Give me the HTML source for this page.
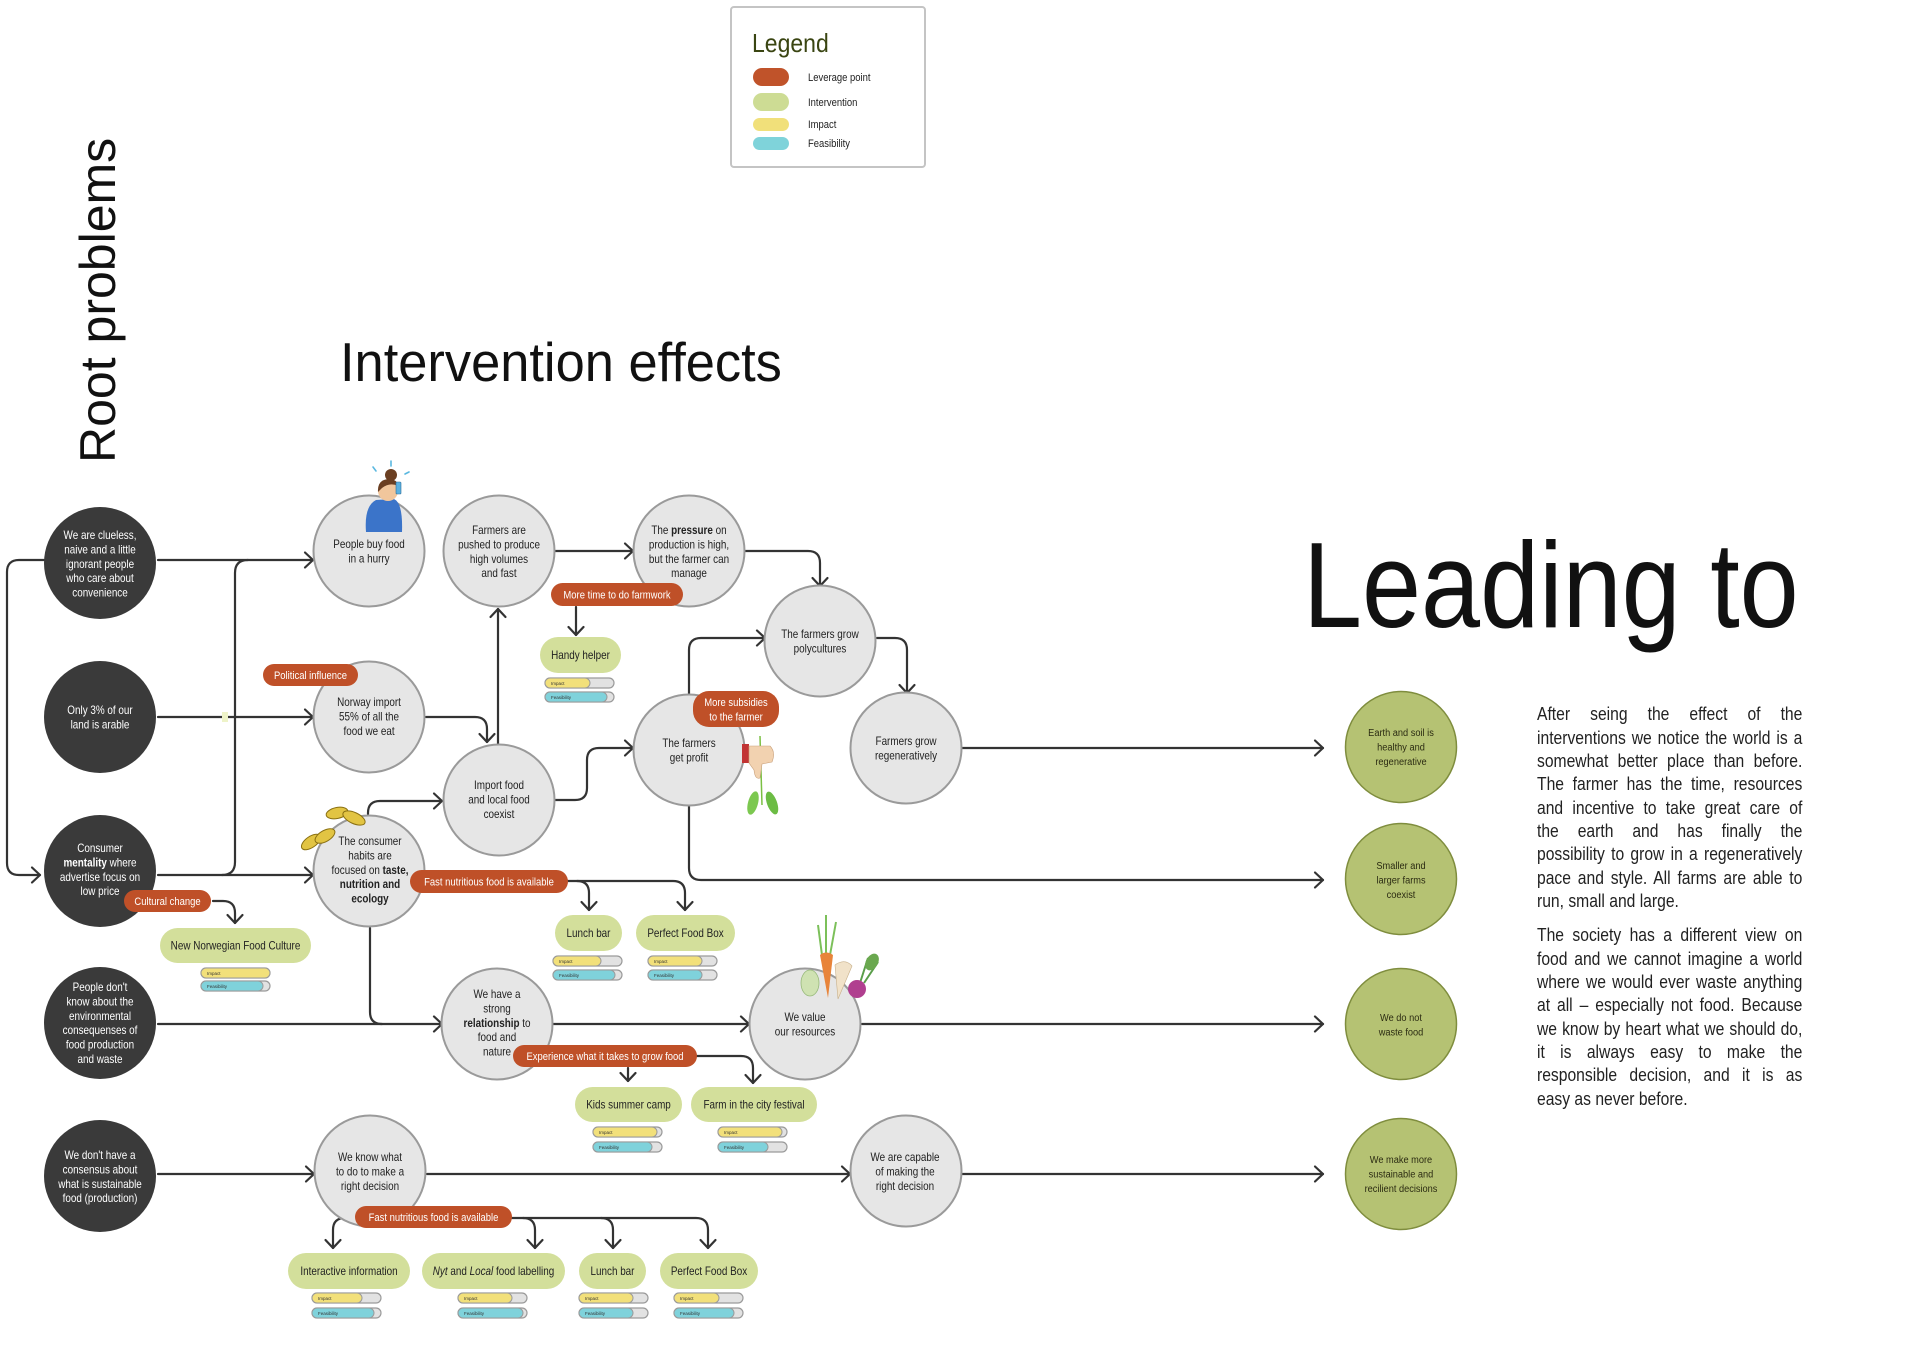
<!DOCTYPE html>
<html>
<head>
<meta charset="utf-8">
<style>
html,body{margin:0;padding:0;background:#fff;}
body{width:1920px;height:1357px;overflow:hidden;position:relative;}
svg{position:absolute;left:0;top:0;}
.t{font-family:"Liberation Sans",Arial,sans-serif;font-size:11.5px;fill:#222;text-anchor:middle;}
.w{fill:#fff;}
.p{font-family:"Liberation Sans",Arial,sans-serif;font-size:11px;fill:#fff;text-anchor:middle;}
.gr{font-family:"Liberation Sans",Arial,sans-serif;font-size:10.5px;fill:#2b2b12;text-anchor:middle;}
.bl{font-family:"Liberation Sans",Arial,sans-serif;font-size:4.5px;fill:#333;}
.c{fill:none;stroke:#333;stroke-width:2.2;stroke-linecap:round;stroke-linejoin:round;}
.gc{fill:#e6e6e6;stroke:#9a9a9a;stroke-width:2;}
.dc{fill:#3a3a3a;}
.lc{fill:#b5c273;stroke:#7f8d3e;stroke-width:1.5;}
.lp{fill:#bf5028;}
.ip{fill:#d3df9b;}
.tr{fill:#e2e2e2;stroke:#9a9a9a;stroke-width:1.2;}
.im{fill:#f2e07a;stroke:#9a9a9a;stroke-width:1;}
.fe{fill:#7fd2db;stroke:#9a9a9a;stroke-width:1;}
#para{position:absolute;left:1537px;top:703.3px;width:305px;transform:scaleX(0.87);transform-origin:0 0;font-family:"Liberation Sans",Arial,sans-serif;font-size:18px;line-height:23.33px;color:#222;}
#para .j{text-align:justify;text-align-last:justify;}
#para .p2{margin-top:11px;}
</style>
</head>
<body>
<svg width="1920" height="1357" viewBox="0 0 1920 1357" xmlns="http://www.w3.org/2000/svg">

<!-- Titles -->
<text transform="translate(115 463) rotate(-90)" font-family="Liberation Sans, Arial, sans-serif" font-size="50" fill="#111">Root problems</text>
<text transform="translate(340 381) scale(.953 1)" font-family="Liberation Sans, Arial, sans-serif" font-size="55" fill="#111">Intervention effects</text>
<text transform="translate(1303 627) scale(.87 1)" font-family="Liberation Sans, Arial, sans-serif" font-size="122" fill="#111">Leading to</text>

<!-- Legend -->
<rect x="731" y="7" width="194" height="160" rx="3" fill="#fff" stroke="#c4c4c4" stroke-width="2"/>
<text transform="translate(752 52) scale(.885 1)" font-family="Liberation Sans, Arial, sans-serif" font-size="26" fill="#3a4512">Legend</text>
<rect x="753" y="68" width="36" height="18" rx="9" fill="#c0532a"/>
<rect x="753" y="93" width="36" height="18" rx="9" fill="#cddc94"/>
<rect x="753" y="118" width="36" height="13" rx="6.5" fill="#f1e07a"/>
<rect x="753" y="137" width="36" height="13" rx="6.5" fill="#7fd3da"/>
<g font-family="Liberation Sans, Arial, sans-serif" font-size="11" fill="#222">
<text transform="translate(808 81) scale(.86 1)">Leverage point</text>
<text transform="translate(808 106) scale(.86 1)">Intervention</text>
<text transform="translate(808 128) scale(.86 1)">Impact</text>
<text transform="translate(808 147) scale(.86 1)">Feasibility</text>
</g>

<!-- Connectors -->
<g class="c">
<path d="M158 560 H313"/><path d="M305 552.5 L313 560 L305 567.5"/>
<path d="M44 560 H19 Q7 560 7 572 V863 Q7 875 19 875 H40"/><path d="M32 867.5 L40 875 L32 882.5"/>
<path d="M158 875 H313"/><path d="M305 867.5 L313 875 L305 882.5"/>
<path d="M222 875 Q235 875 235 862 V573 Q235 560 248 560"/>
<path d="M158 717 H313"/><path d="M305 709.5 L313 717 L305 724.5"/>
<path d="M426 717 H475 Q487 717 487 729 V742"/><path d="M479.5 734 L487 742 L494.5 734"/>
<path d="M498 744 V609"/><path d="M490.5 617 L498 609 L505.5 617"/>
<path d="M368 814 V813 Q368 801 380 801 H442"/><path d="M434 793.5 L442 801 L434 808.5"/>
<path d="M555 800 H575 Q587 800 587 788 V760 Q587 748 599 748 H633"/><path d="M625 740.5 L633 748 L625 755.5"/>
<path d="M555 551 H633"/><path d="M625 543.5 L633 551 L625 558.5"/>
<path d="M745 551 H808 Q820 551 820 563 V586"/><path d="M812.5 578 L820 586 L827.5 578"/>
<path d="M689 695 V650 Q689 638 701 638 H765"/><path d="M757 630.5 L765 638 L757 645.5"/>
<path d="M877 638 H895 Q907 638 907 650 V693"/><path d="M899.5 685 L907 693 L914.5 685"/>
<path d="M962 748 H1323"/><path d="M1315 740.5 L1323 748 L1315 755.5"/>
<path d="M689 806 V868 Q689 880 701 880 H1323"/><path d="M1315 872.5 L1323 880 L1315 887.5"/>
<path d="M158 1024 H442"/><path d="M434 1016.5 L442 1024 L434 1031.5"/>
<path d="M370 928 V1012 Q370 1024 382 1024"/>
<path d="M553 1024 H749"/><path d="M741 1016.5 L749 1024 L741 1031.5"/>
<path d="M862 1024 H1323"/><path d="M1315 1016.5 L1323 1024 L1315 1031.5"/>
<path d="M158 1174 H314"/><path d="M306 1166.5 L314 1174 L306 1181.5"/>
<path d="M427 1174 H850"/><path d="M842 1166.5 L850 1174 L842 1181.5"/>
<path d="M962 1174 H1323"/><path d="M1315 1166.5 L1323 1174 L1315 1181.5"/>
<path d="M576 607 V635"/><path d="M568.5 627 L576 635 L583.5 627"/>
<path d="M213 901 H223 Q235 901 235 913 V923"/><path d="M227.5 915 L235 923 L242.5 915"/>
<path d="M568 881 H673 Q685 881 685 893 V910"/><path d="M677.5 902 L685 910 L692.5 902"/>
<path d="M577 881 Q589 881 589 893 V910"/><path d="M581.5 902 L589 910 L596.5 902"/>
<path d="M628 1068 V1081"/><path d="M620.5 1073 L628 1081 L635.5 1073"/>
<path d="M697 1056 H741 Q753 1056 753 1068 V1083"/><path d="M745.5 1075 L753 1083 L760.5 1075"/>
<path d="M355 1218 H345 Q333 1218 333 1230 V1248"/><path d="M325.5 1240 L333 1248 L340.5 1240"/>
<path d="M512 1218 H696 Q708 1218 708 1230 V1248"/><path d="M700.5 1240 L708 1248 L715.5 1240"/>
<path d="M523 1218 Q535 1218 535 1230 V1248"/><path d="M527.5 1240 L535 1248 L542.5 1240"/>
<path d="M601 1218 Q613 1218 613 1230 V1248"/><path d="M605.5 1240 L613 1248 L620.5 1240"/>
</g>
<rect x="222" y="712" width="6" height="10" fill="#eef3c8"/>

<!-- Dark root circles -->
<circle class="dc" cx="100" cy="563" r="56"/>
<circle class="dc" cx="100" cy="717" r="56"/>
<circle class="dc" cx="100" cy="871" r="56"/>
<circle class="dc" cx="100" cy="1023" r="56"/>
<circle class="dc" cx="100" cy="1176" r="56"/>

<!-- Gray circles -->
<circle class="gc" cx="369" cy="551" r="55.5"/>
<circle class="gc" cx="499" cy="551" r="55.5"/>
<circle class="gc" cx="689" cy="551" r="55.5"/>
<circle class="gc" cx="820" cy="641" r="55.5"/>
<circle class="gc" cx="906" cy="748" r="55.5"/>
<circle class="gc" cx="689" cy="750" r="55.5"/>
<circle class="gc" cx="369" cy="717" r="55.5"/>
<circle class="gc" cx="499" cy="800" r="55.5"/>
<circle class="gc" cx="369" cy="871" r="55.5"/>
<circle class="gc" cx="497" cy="1024" r="55.5"/>
<circle class="gc" cx="805" cy="1024" r="55.5"/>
<circle class="gc" cx="370" cy="1171" r="55.5"/>
<circle class="gc" cx="906" cy="1171" r="55.5"/>

<!-- Green outcome circles -->
<circle class="lc" cx="1401" cy="747" r="55.5"/>
<circle class="lc" cx="1401" cy="879" r="55.5"/>
<circle class="lc" cx="1401" cy="1024" r="55.5"/>
<circle class="lc" cx="1401" cy="1174" r="55.5"/>

<!-- Illustrations -->
<!-- person -->
<path d="M366 532 Q364 506 376 500 L394 499 Q403 503 402 532 Z" fill="#3b74c9"/>
<circle cx="388" cy="491" r="10" fill="#f1c69c"/>
<path d="M378 492 Q377 479 390 479 Q398 480 398 486 Q390 482 382 488 Z" fill="#6b3f22"/>
<circle cx="391" cy="475" r="6" fill="#6b3f22"/>
<rect x="396" y="482" width="5" height="12" rx="1" fill="#5ab0e0" stroke="#2f6f9a" stroke-width="0.6"/>
<g stroke="#5ab8e0" stroke-width="1.6" stroke-linecap="round">
<path d="M373 467 L376 471"/><path d="M391 461 L391 466"/><path d="M405 474 L409 472"/>
</g>
<!-- coins -->
<g fill="#e2c443" stroke="#8a7012" stroke-width="1">
<ellipse cx="337" cy="813" rx="11" ry="5.5" transform="rotate(-12 337 813)"/>
<ellipse cx="354" cy="818" rx="12" ry="5.5" transform="rotate(25 354 818)"/>
<ellipse cx="311" cy="842" rx="11" ry="5.5" transform="rotate(-35 311 842)"/>
<ellipse cx="325" cy="836" rx="11" ry="5.5" transform="rotate(-30 325 836)"/>
</g>
<!-- hand with plant -->
<path d="M760 736 Q761 770 762 805" stroke="#7bc043" stroke-width="1.5" fill="none"/>
<ellipse cx="753" cy="803" rx="5" ry="12" fill="#7cc850" transform="rotate(15 753 803)"/>
<ellipse cx="772" cy="803" rx="5" ry="12" fill="#6cbc44" transform="rotate(-20 772 803)"/>
<rect x="742" y="744" width="7" height="19" fill="#c23434"/>
<path d="M749 746 L770 746 Q776 752 772 762 L762 764 L760 778 Q755 780 754 770 L749 763 Z" fill="#f2d2b0" stroke="#c9a07a" stroke-width="0.6"/>
<!-- vegetables -->
<path d="M822 955 L818 925 M826 955 L826 915 M830 955 L836 922" stroke="#7cc05a" stroke-width="2" fill="none"/>
<path d="M820 955 Q826 950 833 955 L828 998 Z" fill="#e8843a"/>
<path d="M835 965 Q845 958 852 966 L838 999 Z" fill="#f1e2c9" stroke="#c8b08a" stroke-width="0.6"/>
<ellipse cx="810" cy="983" rx="9" ry="13" fill="#cfe2b2" stroke="#97b97a" stroke-width="0.8"/>
<path d="M860 983 L868 958 M864 983 L878 962" stroke="#5a9e4a" stroke-width="2" fill="none"/>
<ellipse cx="872" cy="962" rx="6" ry="9" fill="#6aa84f" transform="rotate(30 872 962)"/>
<circle cx="857" cy="989" r="9" fill="#b03f8f"/>

<!-- Leverage pills -->
<rect class="lp" x="263" y="664" width="95" height="22" rx="11"/>
<rect class="lp" x="551" y="583" width="132" height="23" rx="11.5"/>
<rect class="lp" x="693" y="691" width="86" height="36" rx="16"/>
<rect class="lp" x="410" y="870" width="158" height="23" rx="11.5"/>
<rect class="lp" x="124" y="890" width="87" height="22" rx="11"/>
<rect class="lp" x="513" y="1045" width="184" height="22" rx="11"/>
<rect class="lp" x="355" y="1206" width="157" height="22" rx="11"/>

<text class="p" transform="translate(310.5 679) scale(.86 1)">Political influence</text>
<text class="p" transform="translate(617 598.5) scale(.86 1)">More time to do farmwork</text>
<text class="p" transform="translate(736 706) scale(.86 1)"><tspan x="0">More subsidies</tspan><tspan x="0" dy="14.3">to the farmer</tspan></text>
<text class="p" transform="translate(489 885.5) scale(.86 1)">Fast nutritious food is available</text>
<text class="p" transform="translate(167.5 905) scale(.86 1)">Cultural change</text>
<text class="p" transform="translate(605 1060) scale(.86 1)">Experience what it takes to grow food</text>
<text class="p" transform="translate(433.5 1221) scale(.86 1)">Fast nutritious food is available</text>

<!-- Intervention pills -->
<rect class="ip" x="540" y="637" width="81" height="36" rx="18"/>
<rect class="ip" x="160" y="928" width="151" height="35" rx="17.5"/>
<rect class="ip" x="555" y="915" width="67" height="36" rx="18"/>
<rect class="ip" x="636" y="915" width="99" height="36" rx="18"/>
<rect class="ip" x="575" y="1087" width="107" height="35" rx="17.5"/>
<rect class="ip" x="691" y="1087" width="126" height="35" rx="17.5"/>
<rect class="ip" x="288" y="1253" width="122" height="36" rx="18"/>
<rect class="ip" x="422" y="1253" width="143" height="36" rx="18"/>
<rect class="ip" x="579" y="1253" width="67" height="36" rx="18"/>
<rect class="ip" x="660" y="1253" width="98" height="36" rx="18"/>

<text class="t" transform="translate(580.5 659) scale(.86 1)">Handy helper</text>
<text class="t" transform="translate(235.5 949.5) scale(.86 1)">New Norwegian Food Culture</text>
<text class="t" transform="translate(588.5 937) scale(.86 1)">Lunch bar</text>
<text class="t" transform="translate(685.5 937) scale(.86 1)">Perfect Food Box</text>
<text class="t" transform="translate(628.5 1108.5) scale(.86 1)">Kids summer camp</text>
<text class="t" transform="translate(754 1108.5) scale(.86 1)">Farm in the city festival</text>
<text class="t" transform="translate(349 1275) scale(.86 1)">Interactive information</text>
<text class="t" transform="translate(493.5 1275) scale(.86 1)"><tspan font-style="italic">Nyt</tspan> and <tspan font-style="italic">Local</tspan> food labelling</text>
<text class="t" transform="translate(612.5 1275) scale(.86 1)">Lunch bar</text>
<text class="t" transform="translate(709 1275) scale(.86 1)">Perfect Food Box</text>

<!-- Bars -->
<g>
<rect class="tr" x="545" y="678" width="69" height="10" rx="5"/><rect class="im" x="545" y="678" width="45" height="10" rx="5"/><text class="bl" x="551" y="685">Impact</text>
<rect class="tr" x="545" y="692" width="69" height="10" rx="5"/><rect class="fe" x="545" y="692" width="62" height="10" rx="5"/><text class="bl" x="551" y="699">Feasibility</text>
<rect class="tr" x="201" y="968" width="69" height="10" rx="5"/><rect class="im" x="201" y="968" width="69" height="10" rx="5"/><text class="bl" x="207" y="975">Impact</text>
<rect class="tr" x="201" y="981" width="69" height="10" rx="5"/><rect class="fe" x="201" y="981" width="62" height="10" rx="5"/><text class="bl" x="207" y="988">Feasibility</text>
<rect class="tr" x="553" y="956" width="69" height="10" rx="5"/><rect class="im" x="553" y="956" width="48" height="10" rx="5"/><text class="bl" x="559" y="963">Impact</text>
<rect class="tr" x="553" y="970" width="69" height="10" rx="5"/><rect class="fe" x="553" y="970" width="62" height="10" rx="5"/><text class="bl" x="559" y="977">Feasibility</text>
<rect class="tr" x="648" y="956" width="69" height="10" rx="5"/><rect class="im" x="648" y="956" width="54" height="10" rx="5"/><text class="bl" x="654" y="963">Impact</text>
<rect class="tr" x="648" y="970" width="69" height="10" rx="5"/><rect class="fe" x="648" y="970" width="54" height="10" rx="5"/><text class="bl" x="654" y="977">Feasibility</text>
<rect class="tr" x="593" y="1127" width="69" height="10" rx="5"/><rect class="im" x="593" y="1127" width="64" height="10" rx="5"/><text class="bl" x="599" y="1134">Impact</text>
<rect class="tr" x="593" y="1142" width="69" height="10" rx="5"/><rect class="fe" x="593" y="1142" width="59" height="10" rx="5"/><text class="bl" x="599" y="1149">Feasibility</text>
<rect class="tr" x="718" y="1127" width="69" height="10" rx="5"/><rect class="im" x="718" y="1127" width="64" height="10" rx="5"/><text class="bl" x="724" y="1134">Impact</text>
<rect class="tr" x="718" y="1142" width="69" height="10" rx="5"/><rect class="fe" x="718" y="1142" width="50" height="10" rx="5"/><text class="bl" x="724" y="1149">Feasibility</text>
<rect class="tr" x="312" y="1293" width="69" height="10" rx="5"/><rect class="im" x="312" y="1293" width="50" height="10" rx="5"/><text class="bl" x="318" y="1300">Impact</text>
<rect class="tr" x="312" y="1308" width="69" height="10" rx="5"/><rect class="fe" x="312" y="1308" width="62" height="10" rx="5"/><text class="bl" x="318" y="1315">Feasibility</text>
<rect class="tr" x="458" y="1293" width="69" height="10" rx="5"/><rect class="im" x="458" y="1293" width="54" height="10" rx="5"/><text class="bl" x="464" y="1300">Impact</text>
<rect class="tr" x="458" y="1308" width="69" height="10" rx="5"/><rect class="fe" x="458" y="1308" width="65" height="10" rx="5"/><text class="bl" x="464" y="1315">Feasibility</text>
<rect class="tr" x="579" y="1293" width="69" height="10" rx="5"/><rect class="im" x="579" y="1293" width="54" height="10" rx="5"/><text class="bl" x="585" y="1300">Impact</text>
<rect class="tr" x="579" y="1308" width="69" height="10" rx="5"/><rect class="fe" x="579" y="1308" width="54" height="10" rx="5"/><text class="bl" x="585" y="1315">Feasibility</text>
<rect class="tr" x="674" y="1293" width="69" height="10" rx="5"/><rect class="im" x="674" y="1293" width="45" height="10" rx="5"/><text class="bl" x="680" y="1300">Impact</text>
<rect class="tr" x="674" y="1308" width="69" height="10" rx="5"/><rect class="fe" x="674" y="1308" width="60" height="10" rx="5"/><text class="bl" x="680" y="1315">Feasibility</text>
</g>

<!-- Dark circle texts -->
<text class="t w" transform="translate(100 539) scale(.86 1)"><tspan x="0">We are clueless,</tspan><tspan x="0" dy="14.4">naive and a little</tspan><tspan x="0" dy="14.4">ignorant people</tspan><tspan x="0" dy="14.4">who care about</tspan><tspan x="0" dy="14.4">convenience</tspan></text>
<text class="t w" transform="translate(100 714) scale(.86 1)"><tspan x="0">Only 3% of our</tspan><tspan x="0" dy="14.4">land is arable</tspan></text>
<text class="t w" transform="translate(100 852) scale(.86 1)"><tspan x="0">Consumer</tspan><tspan x="0" dy="14.4"><tspan font-weight="bold">mentality</tspan> where</tspan><tspan x="0" dy="14.4">advertise focus on</tspan><tspan x="0" dy="14.4">low price</tspan></text>
<text class="t w" transform="translate(100 991) scale(.86 1)"><tspan x="0">People don't</tspan><tspan x="0" dy="14.4">know about the</tspan><tspan x="0" dy="14.4">environmental</tspan><tspan x="0" dy="14.4">consequenses of</tspan><tspan x="0" dy="14.4">food production</tspan><tspan x="0" dy="14.4">and waste</tspan></text>
<text class="t w" transform="translate(100 1159) scale(.86 1)"><tspan x="0">We don't have a</tspan><tspan x="0" dy="14.4">consensus about</tspan><tspan x="0" dy="14.4">what is sustainable</tspan><tspan x="0" dy="14.4">food (production)</tspan></text>

<!-- Gray circle texts -->
<text class="t" transform="translate(369 548) scale(.86 1)"><tspan x="0">People buy food</tspan><tspan x="0" dy="14.4">in a hurry</tspan></text>
<text class="t" transform="translate(499 534) scale(.86 1)"><tspan x="0">Farmers are</tspan><tspan x="0" dy="14.4">pushed to produce</tspan><tspan x="0" dy="14.4">high volumes</tspan><tspan x="0" dy="14.4">and fast</tspan></text>
<text class="t" transform="translate(689 534) scale(.86 1)"><tspan x="0">The <tspan font-weight="bold">pressure</tspan> on</tspan><tspan x="0" dy="14.4">production is high,</tspan><tspan x="0" dy="14.4">but the farmer can</tspan><tspan x="0" dy="14.4">manage</tspan></text>
<text class="t" transform="translate(820 638) scale(.86 1)"><tspan x="0">The farmers grow</tspan><tspan x="0" dy="14.4">polycultures</tspan></text>
<text class="t" transform="translate(906 745) scale(.86 1)"><tspan x="0">Farmers grow</tspan><tspan x="0" dy="14.4">regeneratively</tspan></text>
<text class="t" transform="translate(689 747) scale(.86 1)"><tspan x="0">The farmers</tspan><tspan x="0" dy="14.4">get profit</tspan></text>
<text class="t" transform="translate(369 706) scale(.86 1)"><tspan x="0">Norway import</tspan><tspan x="0" dy="14.4">55% of all the</tspan><tspan x="0" dy="14.4">food we eat</tspan></text>
<text class="t" transform="translate(499 789) scale(.86 1)"><tspan x="0">Import food</tspan><tspan x="0" dy="14.4">and local food</tspan><tspan x="0" dy="14.4">coexist</tspan></text>
<text class="t" transform="translate(370 845) scale(.86 1)"><tspan x="0">The consumer</tspan><tspan x="0" dy="14.4">habits are</tspan><tspan x="0" dy="14.4">focused on <tspan font-weight="bold">taste,</tspan></tspan><tspan x="0" dy="14.4" font-weight="bold">nutrition and</tspan><tspan x="0" dy="14.4" font-weight="bold">ecology</tspan></text>
<text class="t" transform="translate(497 998) scale(.86 1)"><tspan x="0">We have a</tspan><tspan x="0" dy="14.4">strong</tspan><tspan x="0" dy="14.4"><tspan font-weight="bold">relationship</tspan> to</tspan><tspan x="0" dy="14.4">food and</tspan><tspan x="0" dy="14.4">nature</tspan></text>
<text class="t" transform="translate(805 1021) scale(.86 1)"><tspan x="0">We value</tspan><tspan x="0" dy="14.4">our resources</tspan></text>
<text class="t" transform="translate(370 1161) scale(.86 1)"><tspan x="0">We know what</tspan><tspan x="0" dy="14.4">to do to make a</tspan><tspan x="0" dy="14.4">right decision</tspan></text>
<text class="t" transform="translate(905 1161) scale(.86 1)"><tspan x="0">We are capable</tspan><tspan x="0" dy="14.4">of making the</tspan><tspan x="0" dy="14.4">right decision</tspan></text>

<!-- Green circle texts -->
<text class="gr" transform="translate(1401 736) scale(.88 1)"><tspan x="0">Earth and soil is</tspan><tspan x="0" dy="14.4">healthy and</tspan><tspan x="0" dy="14.4">regenerative</tspan></text>
<text class="gr" transform="translate(1401 869) scale(.88 1)"><tspan x="0">Smaller and</tspan><tspan x="0" dy="14.4">larger farms</tspan><tspan x="0" dy="14.4">coexist</tspan></text>
<text class="gr" transform="translate(1401 1021) scale(.88 1)"><tspan x="0">We do not</tspan><tspan x="0" dy="14.4">waste food</tspan></text>
<text class="gr" transform="translate(1401 1163) scale(.88 1)"><tspan x="0">We make more</tspan><tspan x="0" dy="14.4">sustainable and</tspan><tspan x="0" dy="14.4">recilient decisions</tspan></text>
</svg>

<div id="para">
<div class="j">After seing the effect of the</div>
<div class="j">interventions we notice the world is a</div>
<div class="j">somewhat better place than before.</div>
<div class="j">The farmer has the time, resources</div>
<div class="j">and incentive to take great care of</div>
<div class="j">the earth and has finally the</div>
<div class="j">possibility to grow in a regeneratively</div>
<div class="j">pace and style. All farms are able to</div>
<div>run, small and large.</div>
<div class="j p2">The society has a different view on</div>
<div class="j">food and we cannot imagine a world</div>
<div class="j">where we would ever waste anything</div>
<div class="j">at all – especially not food. Because</div>
<div class="j">we know by heart what we should do,</div>
<div class="j">it is always easy to make the</div>
<div class="j">responsible decision, and it is as</div>
<div>easy as never before.</div>
</div>
</body>
</html>
